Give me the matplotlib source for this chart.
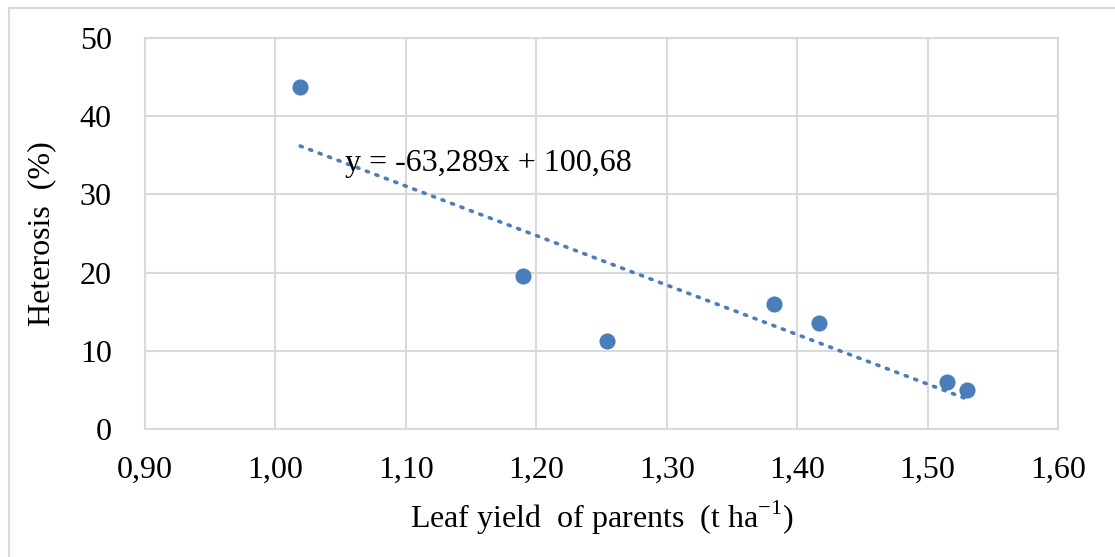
import matplotlib
matplotlib.use("Agg")
import matplotlib.pyplot as plt
import numpy as np
from matplotlib.patches import Rectangle

plt.rcParams['font.family'] = ['Liberation Serif', 'DejaVu Serif']
plt.rcParams['mathtext.fontset'] = 'custom'
plt.rcParams['mathtext.rm'] = 'Liberation Serif'

# Data
leaf_yield = [1.019, 1.190, 1.254, 1.382, 1.417, 1.515, 1.530]
heterosis = [43.7, 19.6, 11.3, 16.0, 13.6, 6.0, 5.0]
slope = -63.289
intercept = 100.68
x_ticks = [0.90, 1.00, 1.10, 1.20, 1.30, 1.40, 1.50, 1.60]
y_ticks = [0, 10, 20, 30, 40, 50]

blue = '#4A7EBB'
grid_c = '#D9D9D9'

fig = plt.figure(figsize=(11.15, 5.57), dpi=100)
fig.patches.append(Rectangle((9/1115, -0.1), 1.2, (557-8)/557 + 0.1, transform=fig.transFigure,
                             fill=False, edgecolor=grid_c, linewidth=1.5))
ax = fig.add_axes([145/1115, (557-429)/557, (1058-145)/1115, (429-38)/557])

ax.set_xlim(0.90, 1.60)
ax.set_ylim(0, 50)
ax.set_xticks(x_ticks)
ax.set_yticks(y_ticks)
ax.set_xticklabels([f"{v:.2f}".replace('.', ',') for v in x_ticks])
ax.set_yticklabels([str(v) for v in y_ticks])
ax.grid(True, color=grid_c, linewidth=1.5)
ax.set_axisbelow(True)
for s in ax.spines.values():
    s.set_color(grid_c)
    s.set_linewidth(1.5)
ax.tick_params(length=0, labelsize=23, colors='black')
ax.tick_params(axis='x', pad=19)
ax.tick_params(axis='y', pad=24)

xs = np.array([min(leaf_yield), max(leaf_yield)])
ax.plot(xs, slope * xs + intercept, linestyle=(0, (0.6, 2.2)), color=blue, linewidth=2.6,
        dash_capstyle='round', zorder=2)
ax.scatter(leaf_yield, heterosis, s=135, color=blue, zorder=3, linewidths=0)

ax.text(1.053, 34.0, "y = -63,289x + 100,68", fontsize=23, va='center', ha='left', zorder=4)

ax.set_xlabel("Leaf yield  of parents  (t ha$^{\\mathregular{-1}}$)", fontsize=23, labelpad=10)
ax.set_ylabel("Heterosis  (%)", fontsize=23, labelpad=17)

fig.savefig("out.png", dpi=100)
